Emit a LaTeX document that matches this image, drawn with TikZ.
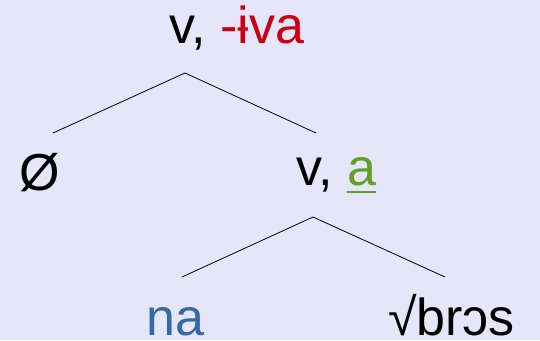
\documentclass[tikz,border=0pt]{standalone}
\usepackage{fontspec}
\setmainfont{Liberation Sans}
\usepackage{xcolor}
\definecolor{lavbg}{RGB}{230,230,250}
\definecolor{ivared}{RGB}{204,0,17}
\definecolor{agreen}{RGB}{98,158,40}
\definecolor{nablue}{RGB}{54,104,172}
\newcommand{\thickuline}[1]{{\setbox0\hbox{#1}\rlap{\rule[-8pt]{\wd0}{2.4pt}}\box0}}

\begin{document}
\begin{tikzpicture}[x=1pt, y=-1pt,
    word/.style={inner sep=0pt, anchor=base west, font=\fontsize{52}{52}\selectfont},
    leaf/.style={word},
    branch/.style={line width=0.8pt}]
    \fill[lavbg] (0,0) rectangle (540,340);
    \useasboundingbox (0,0) rectangle (540,340);

    \node[word] (vtop) at (169,43) {v, \textcolor{ivared}{-ɨva}};
    \node[word] (null) at (19,190) {Ø};
    \node[word] (vmid) at (296,185) {v, \textcolor{agreen}{\thickuline{a}}};
    \node[leaf] (na) at (146,335) {\textcolor{nablue}{na}};
    \node[leaf] (root) at (388,335) {√brɔs};

    % upper split
    \coordinate (top-apex) at (185,73);
    \coordinate (top-l) at (53,133);
    \coordinate (top-r) at (316,133);
    % lower split
    \coordinate (mid-apex) at (313,217);
    \coordinate (mid-l) at (182,277);
    \coordinate (mid-r) at (445,277);

    \draw[branch] (top-l) -- (top-apex) -- (top-r);
    \draw[branch] (mid-l) -- (mid-apex) -- (mid-r);
\end{tikzpicture}
\end{document}
